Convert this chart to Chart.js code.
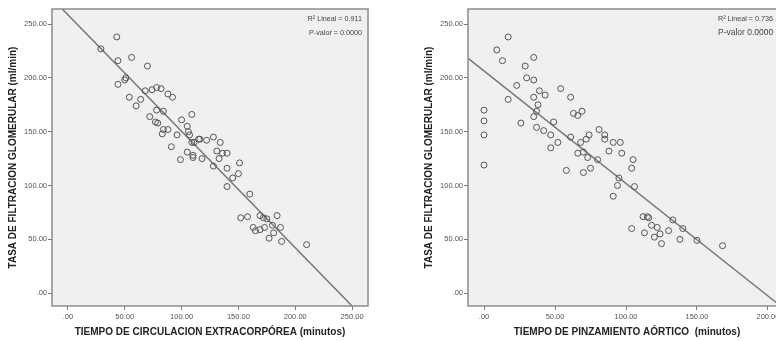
<!DOCTYPE html>
<html lang="es">
<head>
  <meta charset="UTF-8">
  <title>Filtracion glomerular</title>
  <script src="https://cdn.jsdelivr.net/npm/chart.js"></script>
  <style>
    body {
      margin: 0;
      padding: 0;
      background: #ffffff;
      width: 776px;
      height: 341px;
      overflow: hidden;
      position: relative;
    }
    canvas {
      position: absolute;
      top: 0;
    }
  </style>
</head>
<body>

  <canvas id="cecChart" width="388" height="341" style="left:0"></canvas>
  <canvas id="pinzChart" width="418" height="341" style="left:388px"></canvas>

  <script>
    // tick labels shared by both plots
    const tickValues = [0, 50, 100, 150, 200, 250];

    // left: tiempo de circulacion extracorporea vs TFG
    const cecPoints = [
      [29,227],[43,238],[44,216],[56,219],[70,211],[51,200],[50,198],[44,194],
      [54,182],[60,174],[64,180],[68,188],[74,189],[78,191],[82,190],[88,185],
      [92,182],[78,170],[84,169],[72,164],[77,159],[79,158],[84,152],[83,148],
      [88,152],[91,136],[96,147],[99,124],[105,131],[110,128],[100,161],[105,155],
      [109,166],[106,150],[109,140],[107,147],[115,143],[122,142],[128,145],[134,140],
      [110,126],[118,125],[131,132],[136,130],[140,130],[133,125],[128,118],[140,116],
      [145,107],[151,121],[140,99],[150,111],[160,92],[152,70],[158,71],[169,72],
      [172,70],[175,69],[184,72],[163,61],[165,58],[169,59],[173,61],[180,63],
      [187,61],[181,56],[177,51],[188,48],[210,45],[111,140],[116,143]
    ];
    const cecFitLine = [[-5, 264], [250, -12]];

    // right: tiempo de pinzamiento aortico vs TFG
    const pinzPoints = [
      [17,238],[9,226],[13,216],[35,219],[29,211],[30,200],[35,198],[23,193],
      [17,180],[35,182],[39,188],[43,184],[54,190],[61,182],[38,175],[37,169],
      [35,164],[26,158],[37,154],[42,151],[47,147],[49,159],[52,140],[47,135],
      [61,145],[63,167],[66,165],[69,169],[66,130],[70,131],[58,114],[0,170],
      [0,160],[0,147],[0,119],[81,152],[85,147],[85,143],[91,140],[96,140],
      [74,147],[72,143],[68,140],[73,126],[80,124],[88,132],[97,130],[105,124],
      [104,116],[70,112],[75,116],[95,107],[106,99],[94,100],[91,90],[112,71],
      [115,71],[116,70],[118,63],[122,61],[124,55],[120,52],[125,46],[113,56],
      [104,60],[130,58],[133,68],[140,60],[138,50],[150,49],[168,44]
    ];
    const pinzFitLine = [[-12, 219], [206, -9]];

    const toXY = arr => arr.map(p => ({ x: p[0], y: p[1] }));
    const FONT = '"Liberation Sans", Arial, sans-serif';

    // keep only the ticks that fall inside the axis range
    const setTicks = s => {
      s.ticks = tickValues.filter(v => v >= s.min && v <= s.max).map(v => ({ value: v }));
    };
    const noPad = s => { s.paddingLeft = 0; s.paddingRight = 0; s.paddingTop = 0; s.paddingBottom = 0; };

    // grey plot background + frame, and the R2 / p text
    const framePlugin = {
      id: 'frame',
      beforeDatasetsDraw(chart) {
        const { ctx, chartArea: a } = chart;
        ctx.save();
        ctx.fillStyle = '#f0f0f0';
        ctx.fillRect(a.left, a.top, a.right - a.left, a.bottom - a.top);
        ctx.restore();
      },
      afterDraw(chart, args, opts) {
        const { ctx, chartArea: a } = chart;
        ctx.save();
        ctx.strokeStyle = '#8c8c8c';
        ctx.lineWidth = 1.5;
        ctx.strokeRect(a.left, a.top, a.right - a.left, a.bottom - a.top);
        ctx.fillStyle = '#444';
        ctx.textBaseline = 'middle';
        ctx.textAlign = opts.align;
        const x = a.right - opts.dx;
        ctx.font = opts.size1 + 'px ' + FONT;
        ctx.fillText(opts.line1, x, a.top + 10);
        ctx.font = opts.size2 + 'px ' + FONT;
        ctx.fillText(opts.line2, x, a.top + 24);
        ctx.restore();
      }
    };

    function makeChart(id, points, fit, xMin, xMax, xTitle, padLeft, note) {
      const ctx = document.getElementById(id).getContext('2d');
      return new Chart(ctx, {
        type: 'scatter',
        data: {
          datasets: [
            {
              data: toXY(points),
              pointRadius: 3,
              pointBorderWidth: 1,
              pointBackgroundColor: 'rgba(0,0,0,0)',
              pointBorderColor: '#555'
            },
            {
              type: 'line',
              data: toXY(fit),
              borderColor: '#777',
              borderWidth: 1.5,
              pointRadius: 0,
              fill: false
            }
          ]
        },
        options: {
          responsive: false,
          animation: false,
          events: [],
          layout: { padding: { left: padLeft, top: 9, right: 20, bottom: 0 } },
          plugins: {
            legend: { display: false },
            tooltip: { enabled: false },
            frame: note
          },
          scales: {
            x: {
              type: 'linear',
              min: xMin,
              max: xMax,
              afterBuildTicks: setTicks,
              afterFit: s => { s.height = 35; noPad(s); },
              grid: { drawOnChartArea: false, drawTicks: true, tickLength: 4, color: '#777' },
              border: { display: false },
              ticks: {
                padding: 2,
                color: '#555',
                font: { family: FONT, size: 7.5 },
                maxRotation: 0,
                callback: v => v === 0 ? '.00' : v.toFixed(2)
              },
              title: {
                display: true,
                text: xTitle,
                color: '#222',
                padding: { top: 0, bottom: 3 },
                font: { family: FONT, size: 10, weight: 'bold' }
              }
            },
            y: {
              min: -12,
              max: 264,
              afterBuildTicks: setTicks,
              afterFit: s => { s.width = 52; noPad(s); },
              grid: { drawOnChartArea: false, drawTicks: true, tickLength: 4, color: '#777' },
              border: { display: false },
              ticks: {
                padding: 1,
                color: '#555',
                font: { family: FONT, size: 7.5 },
                callback: v => v === 0 ? '.00' : v.toFixed(2)
              },
              title: {
                display: true,
                text: 'TASA DE FILTRACION GLOMERULAR (ml/min)',
                color: '#222',
                padding: { top: 7, bottom: 0 },
                font: { family: FONT, size: 10, weight: 'bold' }
              }
            }
          }
        },
        plugins: [framePlugin]
      });
    }

    makeChart('cecChart', cecPoints, cecFitLine, -14, 264,
      'TIEMPO DE CIRCULACION EXTRACORPÓREA (minutos)', 0,
      { align: 'right', dx: 6, line1: 'R² Lineal = 0.911', line2: 'P-valor = 0.0000', size1: 7.2, size2: 7.2 });

    makeChart('pinzChart', pinzPoints, pinzFitLine, -11.3, 212.7,
      'TIEMPO DE PINZAMIENTO AÓRTICO  (minutos)', 28,
      { align: 'left', dx: 68, line1: 'R² Lineal = 0.736', line2: 'P-valor 0.0000', size1: 7.2, size2: 8.5 });
  </script>

</body>
</html>
